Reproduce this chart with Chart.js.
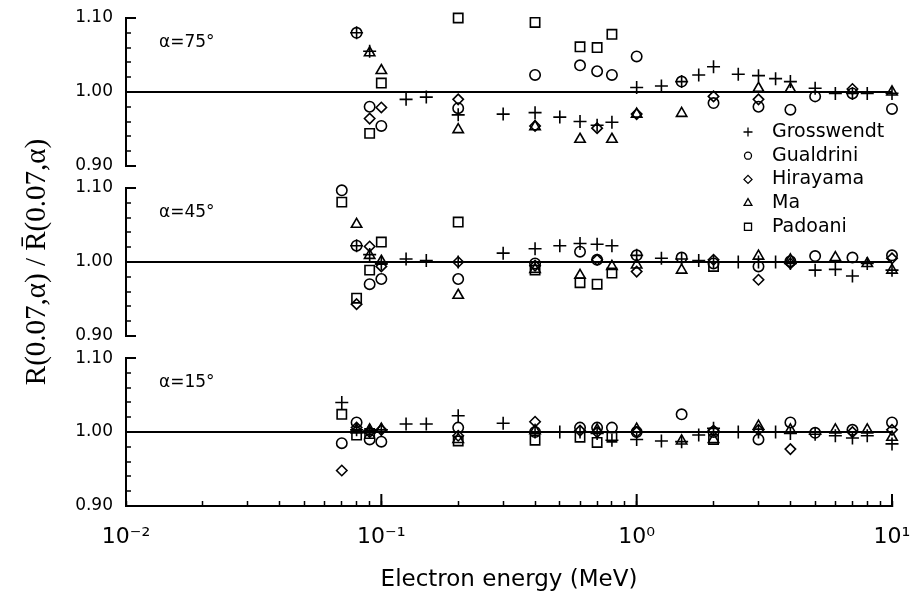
<!DOCTYPE html>
<html>
<head>
<meta charset="utf-8">
<script src="https://cdn.jsdelivr.net/npm/chart.js@4.4.1/dist/chart.umd.min.js"></script>
<style>
html, body { margin: 0; padding: 0; background: #fff; }
</style>
</head>
<body>
<canvas id="chart" width="914" height="601"></canvas>
<script>
// energy grid (MeV), shared by every series; null = no point at that energy
const energies = [0.07, 0.08, 0.09, 0.1, 0.125, 0.15, 0.2, 0.3, 0.4, 0.5, 0.6, 0.7, 0.8, 1, 1.25, 1.5, 1.75, 2, 2.5, 3, 3.5, 4, 5, 6, 7, 8, 10];

// alpha = 75 deg
const gross75 = [null, 1.080, 1.055, null, 0.990, 0.993, 0.969, 0.970, 0.972, 0.966, 0.960, 0.955, 0.959, 1.006, 1.008, 1.014, 1.023, 1.034, 1.024, 1.022, 1.018, 1.014, 1.005, 0.998, 0.998, 0.998, 0.998];
const guald75 = [null, 1.080, 0.980, 0.954, null, null, 0.978, null, 1.023, null, 1.036, 1.028, 1.023, 1.048, null, 1.014, null, 0.985, null, 0.980, null, 0.976, 0.994, null, 0.998, null, 0.977];
const hiray75 = [null, null, 0.964, 0.979, null, null, 0.990, null, 0.954, null, null, 0.951, null, 0.970, null, null, null, 0.994, null, 0.990, null, null, null, null, 1.004, null, null];
const ma75    = [null, null, 1.053, 1.029, null, null, 0.949, null, 0.953, null, 0.936, null, 0.936, 0.970, null, 0.971, null, null, null, 1.005, null, 1.004, null, null, null, null, 1.000];
const padoa75 = [null, null, 0.944, 1.012, null, null, 1.100, null, 1.094, null, 1.061, 1.060, 1.078, null, null, null, null, null, null, null, null, null, null, null, null, null, null];

// alpha = 45 deg
const gross45 = [null, 1.022, 1.010, 0.998, 1.004, 1.002, 1.000, 1.012, 1.018, 1.022, 1.025, 1.024, 1.022, 1.009, 1.005, 1.004, 1.002, 1.000, 1.000, 1.000, 1.000, 0.998, 0.989, 0.990, 0.981, 0.998, 0.989];
const guald45 = [1.097, 1.022, 0.970, 0.977, null, null, 0.977, null, 0.998, null, 1.014, 1.003, null, 1.009, null, 1.006, null, 0.998, null, 0.994, null, 1.001, 1.008, null, 1.006, null, 1.009];
const hiray45 = [null, 0.943, 1.021, 0.994, null, null, 1.000, null, 0.995, null, null, 1.003, null, 0.987, null, null, null, 1.003, null, 0.976, null, 0.998, null, null, null, null, 1.005];
const ma45    = [null, 1.051, 1.009, 1.001, null, null, 0.955, null, 0.990, null, 0.982, null, 0.994, 0.996, null, 0.989, null, null, null, 1.008, null, 1.003, null, 1.006, null, 0.998, 0.989];
const padoa45 = [1.081, 0.951, 0.989, 1.027, null, null, 1.054, null, 0.989, null, 0.972, 0.970, 0.985, null, null, null, null, 0.994, null, null, null, null, null, null, null, null, null];

// alpha = 15 deg
const gross15 = [1.040, 1.003, 1.002, 1.003, 1.011, 1.011, 1.022, 1.012, 1.000, 1.000, 1.000, 0.998, 0.989, 0.990, 0.988, 0.987, 0.996, 1.005, 1.000, 1.000, 1.000, 0.998, 0.997, 0.995, 0.992, 0.995, 0.984];
const guald15 = [0.985, 1.013, 0.990, 0.987, null, null, 1.006, null, 1.000, null, 1.006, 1.006, 1.006, 1.000, null, 1.024, null, 1.000, null, 0.990, null, 1.013, 0.999, null, 1.003, null, 1.013];
const hiray15 = [0.948, 1.006, 1.000, 1.003, null, null, 0.995, null, 1.014, null, 1.002, 1.000, null, 1.000, null, null, null, 1.002, null, 1.003, null, 0.977, null, null, 1.000, null, 1.003];
const ma15    = [null, 1.003, 1.003, 1.004, null, null, 0.990, null, 1.002, null, null, 1.003, null, 1.004, null, 0.988, null, 0.990, null, 1.008, null, 1.003, null, 1.003, null, 1.003, 0.993];
const padoa15 = [1.024, 0.996, 0.998, null, null, null, 0.988, null, 0.989, null, 0.993, 0.986, 0.993, null, null, null, null, 0.990, null, null, null, null, null, null, null, null, null];

const panelLabels = ['\u03b1=75\u00b0', '\u03b1=45\u00b0', '\u03b1=15\u00b0'];
const panelOffsets = [0.46, 0.23, 0];   // panels share one y scale, shifted apart
const seriesNames = ['Grosswendt', 'Gualdrini', 'Hirayama', 'Ma', 'Padoani'];
const seriesValues = [
    [gross75, gross45, gross15],
    [guald75, guald45, guald15],
    [hiray75, hiray45, hiray15],
    [ma75, ma45, ma15],
    [padoa75, padoa45, padoa15]
];
const seriesStyles = [
    { pointStyle: 'cross', radius: 6.5, legendRadius: 4.5 },
    { pointStyle: 'circle', radius: 5.2, legendRadius: 3.5 },
    { pointStyle: 'rectRot', radius: 5.2, legendRadius: 4 },
    { pointStyle: 'triangle', radius: 6, legendRadius: 4.5 },
    { pointStyle: 'rect', radius: 6.6, legendRadius: 5 }
];
const yTickLabels = ['0.90', '1.00', '1.10'];
const xDecadeLabels = ['10\u207b\u00b2', '10\u207b\u00b9', '10\u2070', '10\u00b9'];

// y ticks: every 0.02 inside each panel, labelled at 0.90 / 1.00 / 1.10
const yTicks = [];
panelOffsets.slice().reverse().forEach(off => {
    for (let k = 0; k <= 10; k++) {
        const v = 0.9 + k * 0.02;
        let text = '';
        if (k === 0) text = yTickLabels[0];
        if (k === 5) text = yTickLabels[1];
        if (k === 10) text = yTickLabels[2];
        yTicks.push({ value: v + off, text: text, mid: k === 5 });
    }
});

// x ticks: 1..9 per decade
const xTicks = [];
[0.01, 0.1, 1].forEach((d, i) => {
    for (let k = 1; k <= 9; k++) xTicks.push({ value: k * d, label: k === 1 ? xDecadeLabels[i] : '' });
});
xTicks.push({ value: 10, label: xDecadeLabels[3] });

const datasets = seriesNames.map((name, s) => {
    const pts = [];
    seriesValues[s].forEach((vals, p) => {
        vals.forEach((v, i) => {
            if (v !== null) pts.push({ x: energies[i], y: v + panelOffsets[p] });
        });
    });
    return {
        label: name,
        data: pts,
        showLine: false,
        clip: false,
        pointStyle: seriesStyles[s].pointStyle,
        pointRadius: seriesStyles[s].radius,
        pointBorderColor: '#000',
        pointBackgroundColor: 'rgba(0,0,0,0)',
        pointBorderWidth: 1.6
    };
});

const decor = {
    id: 'decor',
    afterDraw(chart) {
        const { ctx, chartArea } = chart;
        const x = chart.scales.x, y = chart.scales.y;
        ctx.save();
        ctx.strokeStyle = '#000';
        ctx.lineWidth = 2;
        // broken left axis, one bracket per panel
        panelOffsets.forEach(off => {
            const yt = y.getPixelForValue(1.10 + off);
            const yb = y.getPixelForValue(0.90 + off);
            ctx.beginPath();
            ctx.moveTo(chartArea.left + 10, yt);
            ctx.lineTo(chartArea.left, yt);
            ctx.lineTo(chartArea.left, yb);
            ctx.lineTo(chartArea.left + 10, yb);
            ctx.stroke();
        });
        // longer decade ticks
        [0.1, 1, 10].forEach(v => {
            const px = x.getPixelForValue(v);
            ctx.beginPath();
            ctx.moveTo(px, chartArea.bottom);
            ctx.lineTo(px, chartArea.bottom - 12);
            ctx.stroke();
        });
        // panel labels
        ctx.fillStyle = '#000';
        ctx.font = '17px "DejaVu Sans"';
        ctx.textBaseline = 'middle';
        ctx.textAlign = 'left';
        panelLabels.forEach((t, i) => {
            ctx.fillText(t, x.getPixelForValue(0.01346), y.getPixelForValue(1.067 + panelOffsets[i]));
        });
        // legend
        ctx.font = '19px "DejaVu Sans"';
        const lx = chartArea.left + 622;
        seriesNames.forEach((name, s) => {
            const ly = 132 + s * 23.7;
            ctx.lineWidth = 1.3;
            ctx.strokeStyle = '#000';
            ctx.fillStyle = 'rgba(0,0,0,0)';
            Chart.helpers.drawPoint(ctx, {
                pointStyle: seriesStyles[s].pointStyle,
                radius: seriesStyles[s].legendRadius,
                rotation: 0,
                borderWidth: 1.3
            }, lx, ly);
            ctx.fillStyle = '#000';
            ctx.fillText(name, lx + 24, ly);
        });
        ctx.restore();
    }
};

new Chart(document.getElementById('chart'), {
    type: 'scatter',
    data: { datasets: datasets },
    options: {
        responsive: false,
        animation: false,
        layout: { padding: { top: 18, right: 22, left: 0, bottom: 0 } },
        plugins: { legend: { display: false }, tooltip: { enabled: false } },
        scales: {
            x: {
                type: 'logarithmic',
                min: 0.01,
                max: 10,
                afterBuildTicks: scale => { scale.ticks = xTicks.map(t => ({ value: t.value })); },
                afterFit: scale => {
                    scale.height = 95;
                    scale.paddingLeft = 0;
                    scale.paddingRight = 0;
                },
                ticks: {
                    autoSkip: false,
                    maxRotation: 0,
                    padding: 23,
                    color: '#000',
                    font: { family: 'DejaVu Sans', size: 22 },
                    callback: (v, i) => xTicks[i].label
                },
                grid: { drawOnChartArea: false, drawTicks: true, tickLength: -5, tickColor: '#000', tickWidth: 1.5 },
                border: { display: true, color: '#000', width: 2 },
                title: {
                    display: true,
                    text: 'Electron energy (MeV)',
                    color: '#000',
                    font: { family: 'DejaVu Sans', size: 23 },
                    padding: { top: 0, bottom: 7 }
                }
            },
            y: {
                type: 'linear',
                min: 0.9,
                max: 1.56,
                afterBuildTicks: scale => { scale.ticks = yTicks.map(t => ({ value: t.value })); },
                afterFit: scale => {
                    scale.width = 126;
                    scale.paddingTop = 0;
                    scale.paddingBottom = 0;
                },
                ticks: {
                    autoSkip: false,
                    padding: 18,
                    color: '#000',
                    font: { family: 'DejaVu Sans', size: 17 },
                    callback: (v, i) => yTicks[i].text
                },
                grid: {
                    drawTicks: true,
                    tickLength: -5,
                    tickColor: '#000',
                    tickWidth: 1.5,
                    lineWidth: 2,
                    color: ctx => (yTicks[ctx.index] && yTicks[ctx.index].mid) ? '#000' : 'rgba(0,0,0,0)'
                },
                border: { display: false },
                title: {
                    display: true,
                    text: 'R(0.07,\u03b1) / R\u0304(0.07,\u03b1)',
                    color: '#000',
                    font: { family: 'Liberation Serif', size: 29 },
                    padding: { top: 20, bottom: 0 }
                }
            }
        }
    },
    plugins: [decor]
});
</script>
</body>
</html>
